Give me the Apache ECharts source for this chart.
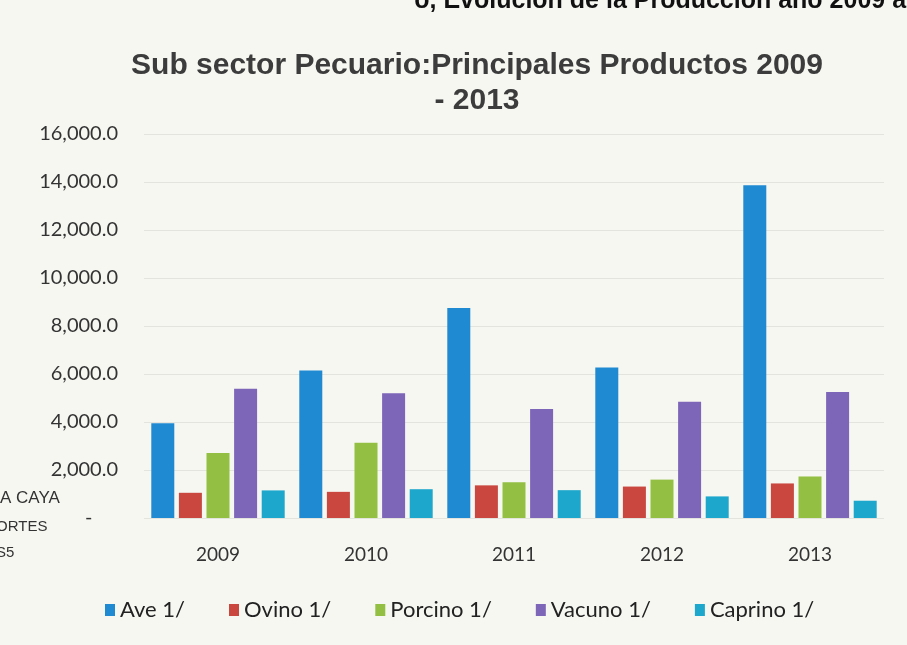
<!DOCTYPE html>
<html>
<head>
<meta charset="utf-8">
<script src="https://cdn.jsdelivr.net/npm/echarts@6/dist/echarts.min.js"></script>
<style>
  html, body {margin: 0; padding: 0; background: #f7f7f2;}
  #main {width: 907px; height: 645px;}
</style>
</head>
<body>
<div id="main"></div>
<script>
const years = ['2009', '2010', '2011', '2012', '2013'];
const ave = [3950, 6150, 8750, 6270, 13860];
const ovino = [1050, 1090, 1360, 1310, 1440];
const porcino = [2710, 3140, 1490, 1600, 1730];
const vacuno = [5390, 5200, 4540, 4840, 5250];
const caprino = [1150, 1200, 1160, 900, 720];

const names = ['Ave 1/', 'Ovino 1/', 'Porcino 1/', 'Vacuno 1/', 'Caprino 1/'];
const colors = ['#1f89d2', '#c9473f', '#93c043', '#7d65b8', '#1ea7cc'];
const values = [ave, ovino, porcino, vacuno, caprino];

const chart = echarts.init(document.getElementById('main'));

function fmt(v) {
  if (v === 0) return '-     ';
  return v.toLocaleString('en-US', {minimumFractionDigits: 1, maximumFractionDigits: 1});
}

const option = {
  backgroundColor: '#f7f7f2',
  animation: false,
  color: colors,
  title: {
    text: 'Sub sector Pecuario:Principales Productos 2009\n- 2013',
    left: 472,
    textAlign: 'center',
    top: 43,
    textStyle: {
      fontFamily: 'Liberation Sans',
      fontWeight: 'bold',
      fontSize: 30,
      lineHeight: 35,
      color: '#3c3c3c'
    }
  },
  graphic: [
    {
      type: 'text', right: -6, top: -11,
      style: {text: 'o, Evolución de la Producción año 2009 al', font: 'bold 25px "Liberation Sans"', fill: '#111'}
    },
    {type: 'text', left: 0, top: 490, style: {text: 'A CAYA', font: '17px "Liberation Sans"', fill: '#333'}},
    {type: 'text', left: -4, top: 519, style: {text: 'ORTES', font: '15px "Liberation Sans"', fill: '#333'}},
    {type: 'text', left: -4, top: 545, style: {text: 'S5', font: '15px "Liberation Sans"', fill: '#333'}}
  ],
  legend: {
    data: names,
    left: 100,
    top: 594,
    itemWidth: 10,
    itemHeight: 12,
    itemGap: 44,
    icon: 'rect',
    textStyle: {fontFamily: 'Lato', fontSize: 22, color: '#222'}
  },
  grid: {left: 144, top: 134, width: 740, height: 384},
  xAxis: {
    type: 'category',
    data: years,
    axisLine: {show: false},
    axisTick: {show: false},
    axisLabel: {margin: 27, fontFamily: 'Lato', fontSize: 19, color: '#333'}
  },
  yAxis: {
    type: 'value',
    min: 0,
    max: 16000,
    interval: 2000,
    axisLine: {show: false},
    axisTick: {show: false},
    splitLine: {show: true, lineStyle: {color: '#e4e4de', width: 1}},
    axisLabel: {margin: 26, fontFamily: 'Lato', fontSize: 20, color: '#333', formatter: fmt}
  },
  series: values.map((vals, i) => ({
    name: names[i],
    type: 'bar',
    data: vals,
    barWidth: 23,
    barGap: '20%',
    itemStyle: {color: colors[i]},
    emphasis: {disabled: true}
  }))
};

chart.setOption(option);
</script>
</body>
</html>
